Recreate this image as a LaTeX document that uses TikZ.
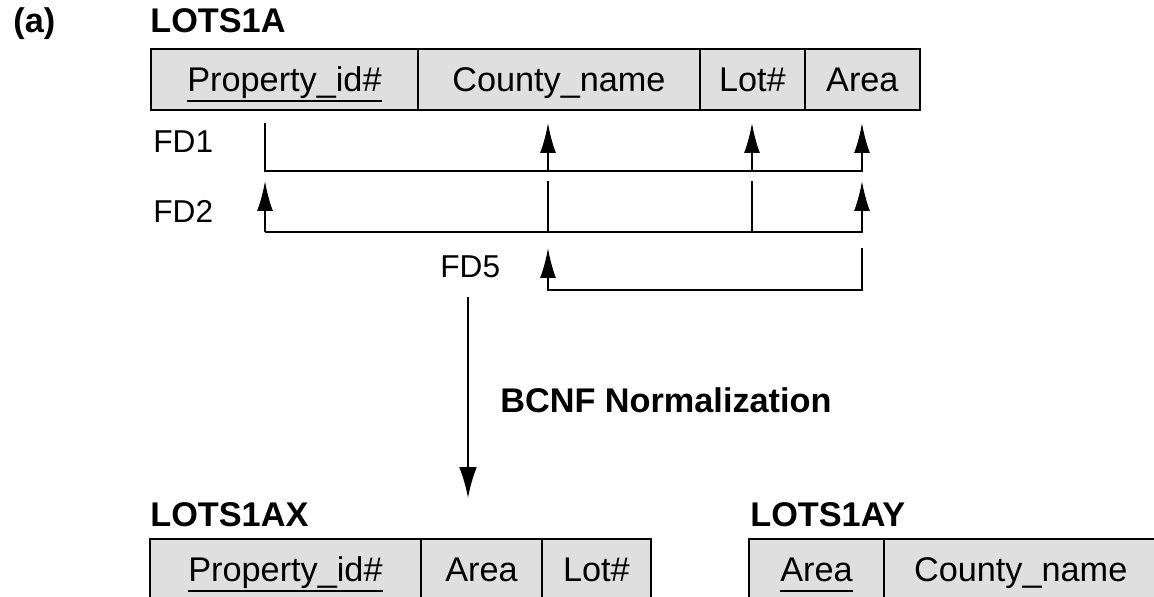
\documentclass[tikz,border=0pt]{standalone}
\usepackage{fontspec}
\setmainfont{Liberation Sans}
\usetikzlibrary{arrows.meta,positioning}

\newcommand{\pkey}[1]{\setbox0=\hbox{#1}\rlap{\rule[-5.8pt]{\wd0}{1.1pt}}\box0}

\tikzset{cell/.style={draw,line width=1.1pt,fill=gray!25,inner sep=0pt,outer sep=0pt,
                      minimum height=1.22cm,text height=14pt,text depth=0pt,
                      font=\fontsize{19.5}{23}\selectfont},
         title/.style={anchor=base west,inner sep=0pt,font=\fontsize{19.5}{23}\selectfont\bfseries},
         fdlabel/.style={anchor=base west,inner sep=0pt,font=\fontsize{18}{22}\selectfont},
         fd/.style={line width=1.1pt},
         tip/.style={-{Latex[length=17pt,width=9pt]}},
         bigtip/.style={-{Latex[length=17.5pt,width=10pt]}}}

\begin{document}
\begin{tikzpicture}[x=0.02cm,y=-0.02cm]
    \clip (0,0) rectangle (1154,597);
    \node[title] (part) at (13,33) {(a)};
    \node[title] (lotsa) at (150,33) {LOTS1A};
    % relation before normalization
    \node[cell,minimum width=5.34cm,anchor=north west] (pid) at (151,49) {\pkey{Property\_id\#}};
    \node[cell,minimum width=5.64cm,right=0pt of pid] (cname) {County\_name};
    \node[cell,minimum width=2.1cm,right=0pt of cname] (lot) {Lot\#};
    \node[cell,minimum width=2.3cm,right=0pt of lot] (area) {Area};
    % dependencies
    \node[fdlabel] (fd1) at (153,153) {FD1};
    \node[fdlabel] (fd2) at (153,223) {FD2};
    \node[fdlabel] (fd5) at (440,278) {FD5};
    \foreach \n/\x in {P/265,C/548,L/752,A/862}{
        \coordinate (fd1top\n) at (\x,123);
        \coordinate (fd1\n) at (\x,171);
        \coordinate (fd2top\n) at (\x,181);
        \coordinate (fd2\n) at (\x,232);
        \coordinate (fd5top\n) at (\x,248);
        \coordinate (fd5\n) at (\x,290);
    }
    \draw[fd,tip] (fd1topP) -- (fd1P) -- (fd1A) -- (fd1topA);
    \foreach \n in {C,L} \draw[fd,tip] (fd1\n) -- (fd1top\n);
    \draw[fd,tip] (fd2P) -- (fd2topP);
    \draw[fd,tip] (fd2P) -- (fd2A) -- (fd2topA);
    \foreach \n in {C,L} \draw[fd] (fd2top\n) -- (fd2\n);
    \draw[fd,tip] (fd5topA) -- (fd5A) -- (fd5C) -- (fd5topC);
    % decomposition
    \coordinate (normstart) at (468,297);
    \coordinate (normend) at (468,498);
    \draw[fd,bigtip] (normstart) -- (normend);
    \node[title] (bcnf) at (500,413) {BCNF Normalization};
    \node[title] (lotsax) at (150,527) {LOTS1AX};
    \node[cell,minimum width=5.42cm,anchor=north west] (xpid) at (150,539) {\pkey{Property\_id\#}};
    \node[cell,minimum width=2.42cm,right=0pt of xpid] (xarea) {Area};
    \node[cell,minimum width=2.18cm,right=0pt of xarea] (xlot) {Lot\#};
    \node[title] (lotsay) at (750,527) {LOTS1AY};
    \node[cell,minimum width=2.7cm,anchor=north west] (yarea) at (749,539) {\pkey{Area}};
    \node[cell,minimum width=5.47cm,right=0pt of yarea] (ycname) {County\_name};
\end{tikzpicture}
\end{document}
